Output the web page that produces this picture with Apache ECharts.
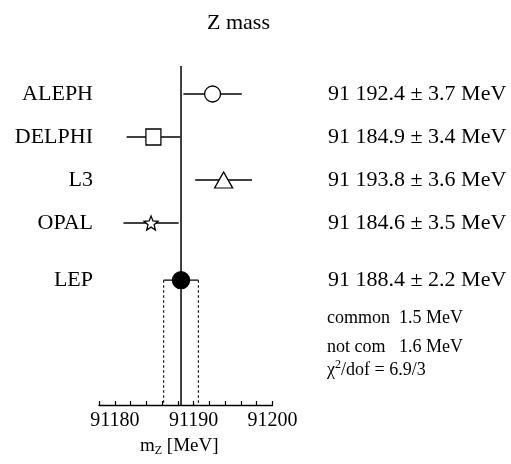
<!DOCTYPE html>
<html lang="en">
    <head>
        <meta charset="UTF-8" />
        <script src="https://cdn.jsdelivr.net/npm/echarts@6/dist/echarts.min.js"></script>
        <title>Z mass</title>
        <style>
            body {
                margin: 0;
                background: #fff;
            }

            #main {
                width: 511px;
                height: 464px;
            }
        </style>
    </head>

    <body>
        <div id="main"></div>
        <script type="text/javascript">
            // measurements (MeV)
            var names = ["ALEPH", "DELPHI", "L3", "OPAL", "LEP"];
            var masses = [91192.4, 91184.9, 91193.8, 91184.6, 91188.4];
            var errors = [3.7, 3.4, 3.6, 3.5, 2.2];
            // row of each measurement on the vertical scale
            var rows = [1, 2, 3, 4, 5.33];
            var symbols = ["circle", "rect", "triangle", "star", "dot"];

            var xTicks = [91178, 91180, 91182, 91184, 91186, 91188, 91190, 91192, 91194, 91196, 91198, 91200];
            var xLabels = [91180, 91190, 91200];

            var lepValue = masses[4];
            var lepError = errors[4];

            var serif = "Liberation Serif";
            var starPath =
                "path://M50 0 L62.93 32.2 L97.55 34.55 L70.92 56.8 L79.39 90.45 L50 72 L20.61 90.45 L29.08 56.8 L2.45 34.55 L37.07 32.2 Z";

            var symbolStyle = {
                circle: { symbol: "circle", size: 16 },
                rect: { symbol: "rect", size: [15, 16] },
                triangle: { symbol: "triangle", size: [18, 16] },
                star: { symbol: starPath, size: [14, 14] },
                dot: { symbol: "circle", size: 17 },
            };

            function fmtMass(v) {
                return "91 " + (v - 91000).toFixed(1);
            }

            var barData = [];
            var pointData = [];
            for (var i = 0; i < names.length; i++) {
                barData.push([masses[i] - errors[i], masses[i] + errors[i], rows[i]]);
                var s = symbolStyle[symbols[i]];
                pointData.push({
                    value: [masses[i], rows[i]],
                    symbol: s.symbol,
                    symbolSize: s.size,
                    itemStyle: {
                        color: symbols[i] === "dot" ? "#000" : "#fff",
                        borderColor: "#000",
                        borderWidth: 1.3,
                        opacity: 1,
                    },
                });
            }

            var chart = echarts.init(document.getElementById("main"));

            var option = {
                animation: false,
                backgroundColor: "#fff",
                title: {
                    text: "Z mass",
                    left: 202,
                    top: 7,
                    textStyle: {
                        fontFamily: serif,
                        fontSize: 22,
                        fontWeight: "normal",
                        color: "#000",
                    },
                },
                grid: {
                    left: 99,
                    right: 238.5,
                    top: 51,
                    bottom: 59,
                },
                xAxis: {
                    type: "value",
                    position: "bottom",
                    min: 91178,
                    max: 91200,
                    name: "{m|m}{sub|Z}{m| [MeV]}",
                    nameLocation: "middle",
                    nameGap: 30,
                    nameTextStyle: {
                        padding: [0, 13, 0, 0],
                        rich: {
                            m: { fontFamily: serif, fontSize: 19, color: "#000" },
                            sub: { fontFamily: serif, fontSize: 12, color: "#000", padding: [10, 0, 0, 0] },
                        },
                    },
                    axisLine: { show: true, onZero: false, lineStyle: { color: "#000", width: 1.3 } },
                    axisTick: {
                        show: true,
                        inside: true,
                        length: 4,
                        customValues: xTicks,
                        lineStyle: { color: "#000", width: 1.2 },
                    },
                    axisLabel: {
                        customValues: xLabels,
                        margin: 6,
                        fontFamily: serif,
                        fontSize: 20,
                        color: "#000",
                        formatter: function (v) {
                            return String(v);
                        },
                    },
                    splitLine: { show: false },
                },
                yAxis: [
                    {
                        type: "value",
                        inverse: true,
                        min: 0,
                        max: 354 / 43,
                        axisLine: { show: false },
                        axisTick: { show: false },
                        splitLine: { show: false },
                        axisLabel: {
                            customValues: rows,
                            margin: 6,
                            fontFamily: serif,
                            fontSize: 22,
                            color: "#000",
                            formatter: function (v) {
                                return names[rows.indexOf(v)];
                            },
                        },
                    },
                    {
                        type: "value",
                        position: "right",
                        inverse: true,
                        min: 0,
                        max: 354 / 43,
                        axisLine: { show: false },
                        axisTick: { show: false },
                        splitLine: { show: false },
                        axisLabel: {
                            customValues: rows,
                            margin: 55.5,
                            fontFamily: serif,
                            fontSize: 22,
                            color: "#000",
                            formatter: function (v) {
                                var k = rows.indexOf(v);
                                return fmtMass(masses[k]) + " \u00b1 " + errors[k].toFixed(1) + " MeV";
                            },
                        },
                    },
                ],
                graphic: [
                    {
                        type: "text",
                        left: 327,
                        top: 309,
                        style: {
                            text: "common  1.5 MeV",
                            font: "18px " + serif,
                            fill: "#000",
                        },
                    },
                    {
                        type: "text",
                        left: 327,
                        top: 338,
                        style: {
                            text: "not com   1.6 MeV",
                            font: "18px " + serif,
                            fill: "#000",
                        },
                    },
                    {
                        type: "text",
                        left: 327,
                        top: 359,
                        style: {
                            text: "{g|\u03c7}{sup|2}{t|/dof = 6.9/3}",
                            rich: {
                                g: { font: "18px " + serif, fill: "#000", padding: [6, 0, 0, 0] },
                                sup: { font: "12px " + serif, fill: "#000", padding: [0, 0, 4, 0] },
                                t: { font: "18px " + serif, fill: "#000", padding: [6, 0, 0, 0] },
                            },
                        },
                    },
                ],
                series: [
                    {
                        // central LEP value line
                        type: "line",
                        data: [
                            [lepValue, 0.35],
                            [lepValue, 354 / 43],
                        ],
                        symbol: "none",
                        lineStyle: { color: "#000", width: 1.5 },
                        silent: true,
                        z: 1,
                    },
                    {
                        // LEP error band, dashed down to the axis
                        type: "custom",
                        data: [[lepValue - lepError, lepValue + lepError, rows[4]]],
                        renderItem: function (params, api) {
                            var top = api.value(2);
                            var a = api.coord([api.value(0), top]);
                            var b = api.coord([api.value(0), 354 / 43]);
                            var c = api.coord([api.value(1), top]);
                            var d = api.coord([api.value(1), 354 / 43]);
                            var st = { stroke: "#000", lineWidth: 1.1, lineDash: [2.5, 2.5] };
                            return {
                                type: "group",
                                children: [
                                    { type: "line", shape: { x1: a[0], y1: a[1], x2: b[0], y2: b[1] }, style: st },
                                    { type: "line", shape: { x1: c[0], y1: c[1], x2: d[0], y2: d[1] }, style: st },
                                ],
                            };
                        },
                        silent: true,
                        z: 1,
                    },
                    {
                        // horizontal error bars
                        type: "custom",
                        data: barData,
                        renderItem: function (params, api) {
                            var p1 = api.coord([api.value(0), api.value(2)]);
                            var p2 = api.coord([api.value(1), api.value(2)]);
                            return {
                                type: "line",
                                shape: { x1: p1[0], y1: p1[1], x2: p2[0], y2: p2[1] },
                                style: { stroke: "#000", lineWidth: 1.3 },
                            };
                        },
                        silent: true,
                        z: 2,
                    },
                    {
                        type: "scatter",
                        data: pointData,
                        silent: true,
                        z: 3,
                    },
                ],
            };

            chart.setOption(option);
        </script>
    </body>
</html>
